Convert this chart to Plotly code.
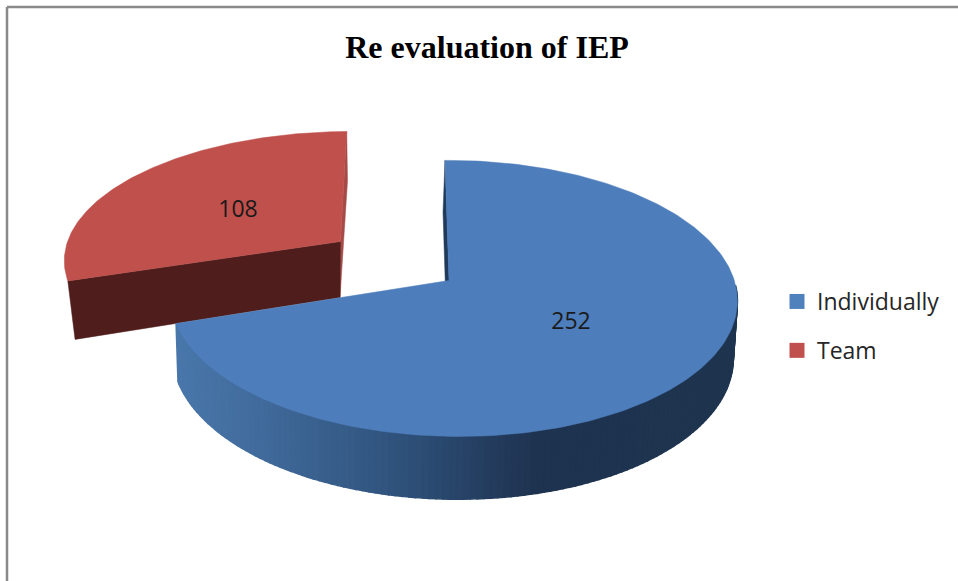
import numpy as np
import plotly.graph_objects as go

categories = ["Individually", "Team"]
values = [252, 108]
colors = ["#4f81bd", "#c0504d"]
title_text = "Re evaluation of IEP"

# wall shading stops for the blue slice, sampled left to right in screen x
shade_x = [175, 270, 403, 503, 540, 738]
shade_rgb = [(74, 120, 172), (64, 106, 154), (47, 82, 123), (35, 58, 91), (30, 51, 79), (31, 53, 80)]

total = sum(values)
blue_sweep = 360 * values[0] / total
red_sweep = 360 * values[1] / total
START = 90.0
K, M = 0.13, -0.015


def ring(t_deg, ax, ay, rx, ry, shear):
    t = np.radians(np.asarray(t_deg, dtype=float))
    u, v = np.cos(t), np.sin(t)
    w = 1 + K * v + M * u
    return ax + (rx * u + shear * v) / w, ay - ry * v / w


def poly(xs, ys, color, lw=0.0):
    return go.Scatter(x=list(xs), y=list(ys), mode="lines", fill="toself", fillcolor=color,
                      line=dict(color=color, width=lw), hoverinfo="skip", showlegend=False)


fig = go.Figure()

# Team slice (pulled out)
RT = dict(ax=340.5, ay=241.5, rx=277, ry=124.3, shear=7)
RB = dict(ax=340.0, ay=297.5, rx=268.6, ry=132, shear=8.5)
t_end_blue = START - blue_sweep
tt = np.linspace(t_end_blue, t_end_blue - red_sweep, 120)
x_t, y_t = ring(tt, **RT)
xb0, yb0 = ring([START], **RB)
fig.add_trace(poly([x_t[-1], xb0[0], RB["ax"], RT["ax"], x_t[-1]],
                   [y_t[-1], yb0[0], RB["ay"], RT["ay"], y_t[-1]], "#a54a47", 0.5))
xb1, yb1 = ring([t_end_blue], **RB)
fig.add_trace(poly([x_t[0], RT["ax"], RB["ax"], xb1[0], x_t[0]],
                   [y_t[0], RT["ay"], RB["ay"], yb1[0], y_t[0]], "#4f1e1c", 0.5))
fig.add_trace(poly([RT["ax"], *x_t, RT["ax"]], [RT["ay"], *y_t, RT["ay"]], "#bf504c", 0.5))

# Individually slice
BT = dict(ax=449.0, ay=280.5, rx=281, ry=135.7, shear=-4.5)
BB = dict(ax=448.0, ay=337.0, rx=278, ry=141.1, shear=-4.5)
steps = np.linspace(t_end_blue, -2, 131)
for a, b in zip(steps[:-1], steps[1:]):
    tseg = np.array([a, b])
    x1, y1 = ring(tseg, **BT)
    x2, y2 = ring(tseg[::-1], **BB)
    mid = (x1.mean() + x2.mean()) / 2
    rgb = [np.interp(mid, shade_x, [c[i] for c in shade_rgb]) for i in range(3)]
    col = "rgb(%d,%d,%d)" % tuple(rgb)
    fig.add_trace(poly([*x1, *x2, x1[0]], [*y1, *y2, y1[0]], col, 1.5))
xs0, ys0 = ring([START], **BT)
xb2, yb2 = ring([START], **BB)
fig.add_trace(poly([xs0[0], BT["ax"], BB["ax"] - 1, xb2[0] - 1, xs0[0]],
                   [ys0[0], BT["ay"], BB["ay"], yb2[0], ys0[0]], "#1f3a5a", 0.5))
tb = np.linspace(START, t_end_blue, 240)
x_b, y_b = ring(tb, **BT)
fig.add_trace(poly([BT["ax"], *x_b, BT["ax"]], [BT["ay"], *y_b, BT["ay"]], "#4d7dba", 0.5))

# Data labels
label_x = [571, 238]
label_y = [323, 211]
fig.add_trace(go.Scatter(x=label_x, y=label_y, mode="text", text=[str(v) for v in values],
                         textposition="middle center", hoverinfo="skip", showlegend=False,
                         textfont=dict(family="Open Sans", size=23, color="#1a1a1a")))

# Legend entries
for c, n in zip(colors, categories):
    fig.add_trace(go.Scatter(x=[None], y=[None], mode="markers", name=n, legendgroup=n,
                             marker=dict(symbol="square", size=15, color=c)))

frame = dict(color="#8a8a8a", width=2.5)
fig.update_layout(
    width=958, height=581,
    margin=dict(l=0, r=0, t=0, b=0),
    paper_bgcolor="white", plot_bgcolor="white",
    title=dict(text=title_text, x=487 / 958, xanchor="center", y=1 - 47 / 581, yanchor="middle",
               font=dict(family="Liberation Serif", size=32, color="black", weight="bold")),
    xaxis=dict(range=[0, 958], visible=False, fixedrange=True),
    yaxis=dict(range=[581, 0], visible=False, fixedrange=True),
    legend=dict(x=777 / 958, y=1 - 280 / 581, xanchor="left", yanchor="top", tracegroupgap=16,
                font=dict(family="Open Sans", size=23, color="#262626"), bgcolor="rgba(0,0,0,0)"),
    shapes=[
        dict(type="line", xref="x", yref="y", x0=7, x1=958, y0=7, y1=7, line=frame),
        dict(type="line", xref="x", yref="y", x0=7, x1=7, y0=7, y1=581, line=frame),
    ],
)
fig.write_html("out.html", config={"displayModeBar": False},
               post_script="document.body.style.margin='0';document.body.style.overflow='hidden';")
